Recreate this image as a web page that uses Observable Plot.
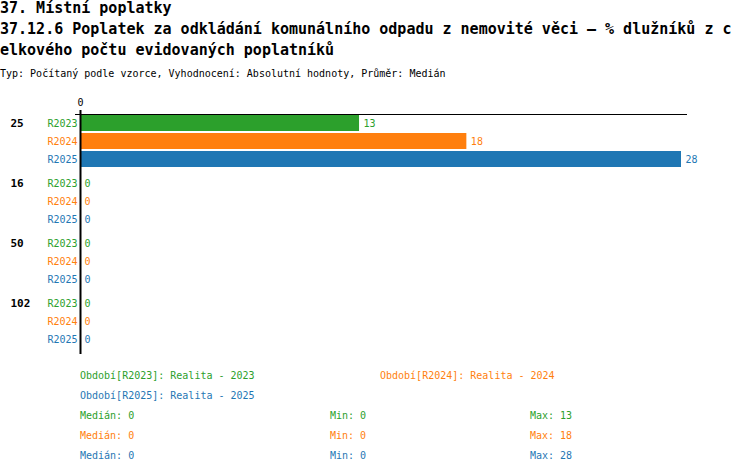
<!DOCTYPE html>
<html>
<head>
<meta charset="utf-8">
<script src="https://cdn.jsdelivr.net/npm/d3@7"></script>
<script src="https://cdn.jsdelivr.net/npm/@observablehq/plot@0.6"></script>
<style>
  body { margin: 0; background: #fff; width: 750px; font-family: "DejaVu Sans Mono", monospace; }
  .t { font-weight: bold; font-size: 15px; line-height: 21px; height: 21px; white-space: pre; position: relative; top: -2px; }
  .sub { font-size: 10px; line-height: 21px; height: 21px; white-space: pre; }
  #chart svg { display: block; }
  .row { display: flex; font-size: 10px; line-height: 20px; height: 20px; padding-left: 80px; white-space: pre; }
</style>
</head>
<body>
<div id="head"></div>
<div id="chart"></div>
<div id="legend"></div>
<script>
const titleLines = ["37. Místní poplatky", "37.12.6 Poplatek za odkládání komunálního odpadu z nemovité věci – % dlužníků z c", "elkového počtu evidovaných poplatníků"];
const subtitle = "Typ: Počítaný podle vzorce, Vyhodnocení: Absolutní hodnoty, Průměr: Medián";

const groups = ["25", "16", "50", "102"];
const series = ["R2023", "R2024", "R2025"];
const colors = ["#2ca02c", "#ff7f0e", "#1f77b4"];
const valuesR2023 = [13, 0, 0, 0];
const valuesR2024 = [18, 0, 0, 0];
const valuesR2025 = [28, 0, 0, 0];
const xTicks = [0];

const legendLabels = ["Období[R2023]: Realita - 2023", "Období[R2024]: Realita - 2024", "Období[R2025]: Realita - 2025"];
const medians = [0, 0, 0];
const mins = [0, 0, 0];
const maxs = [13, 18, 28];

const seriesValues = [valuesR2023, valuesR2024, valuesR2025];
const data = [];
groups.forEach((g, gi) => series.forEach((s, si) => data.push({group: g, series: s, value: seriesValues[si][gi]})));

const head = document.getElementById("head");
titleLines.forEach(t => { const d = document.createElement("div"); d.className = "t"; d.textContent = t; head.appendChild(d); });
const sd = document.createElement("div"); sd.className = "sub"; sd.textContent = subtitle; head.appendChild(sd);

const font = "DejaVu Sans Mono";
const chart = Plot.plot({
  width: 750,
  height: 282,
  marginTop: 30,
  marginBottom: 18,
  marginLeft: 80,
  marginRight: 69,
  style: {fontFamily: font, fontSize: "10px", background: "#fff"},
  x: {domain: [0, d3.max(data, d => d.value)], axis: null},
  y: {domain: series, paddingInner: 0.1, paddingOuter: 0.05, axis: null},
  fy: {domain: groups, paddingInner: 0.1, paddingOuter: 0, axis: null},
  color: {domain: series, range: colors},
  marks: [
    Plot.barX(data, {fy: "group", y: "series", x: "value", fill: "series"}),
    Plot.frame({anchor: "top", fy: ["25"], stroke: "#000", insetLeft: -5, insetRight: -5}),
    Plot.ruleX(xTicks, {stroke: "#000", strokeWidth: 2, insetBottom: -6}),
    Plot.axisX(xTicks, {anchor: "top", label: null, tickSize: 5, strokeWidth: 2, fontSize: 10, fill: "#000", stroke: "#000"}),
    Plot.text(data, {fy: "group", y: "series", x: "value", text: d => String(d.value), fill: "series", textAnchor: "start", dx: 4, fontSize: 10}),
    Plot.text(data, {fy: "group", y: "series", x: 0, text: "series", fill: "series", textAnchor: "end", dx: -3, fontSize: 10}),
    Plot.text(groups, {fy: d => d, y: () => series[0], frameAnchor: "left", text: d => d, textAnchor: "start", dx: -70, fontWeight: "bold", fontSize: 11, fill: "#000"})
  ]
});
document.getElementById("chart").appendChild(chart);

const legend = document.getElementById("legend");
function row(items) {
  const r = document.createElement("div"); r.className = "row";
  items.forEach(([text, color, w]) => { const s = document.createElement("span"); s.textContent = text; s.style.color = color; s.style.width = w + "px"; s.style.display = "inline-block"; r.appendChild(s); });
  legend.appendChild(r);
}
row([[legendLabels[0], colors[0], 300], [legendLabels[1], colors[1], 300]]);
row([[legendLabels[2], colors[2], 300]]);
series.forEach((s, i) => row([["Medián: " + medians[i], colors[i], 250], ["Min: " + mins[i], colors[i], 200], ["Max: " + maxs[i], colors[i], 100]]));
</script>
</body>
</html>
